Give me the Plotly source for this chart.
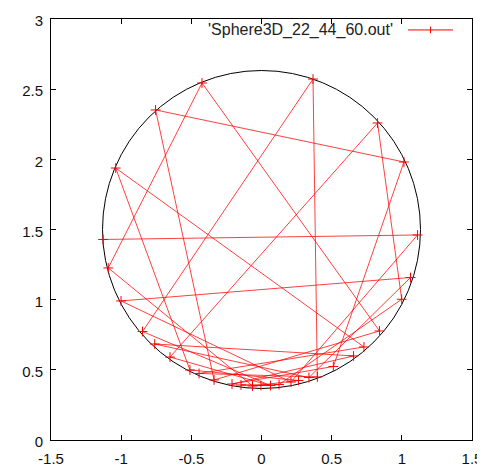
import plotly.graph_objects as go

# Bounce points, in path order
path_x = [-1.129, 1.112, 0.210, -1.001, 1.062, 0.338, -0.761, 0.656, -0.210, 0.512,
          1.015, -0.755, -0.338, 0.841, -0.424, -1.092, -0.064, 0.264, -0.510, -1.039,
          0.730, -0.445, 0.398, 0.367, -0.848, 0.064, -0.652, 0.827, 0.999, 0.125,
          -0.146, -0.004]
path_y = [1.429, 1.461, 0.413, 0.991, 1.158, 0.445, 0.684, 0.599, 0.399, 0.524,
          1.981, 2.352, 0.428, 0.777, 2.544, 1.226, 0.385, 0.424, 0.499, 1.938,
          0.663, 0.474, 0.449, 2.572, 0.773, 0.388, 0.591, 2.259, 1.003, 0.395,
          0.392, 0.388]

series_name = "'Sphere3D_22_44_60.out'"

circle_cx = 0.0
circle_cy = 1.5
circle_r = 1.133

x_ticks = [-1.5, -1, -0.5, 0, 0.5, 1, 1.5]
x_tick_text = ["-1.5", "-1", "-0.5", "0", "0.5", "1", "1.5"]
y_ticks = [0, 0.5, 1, 1.5, 2, 2.5, 3]
y_tick_text = ["0", "0.5", "1", "1.5", "2", "2.5", "3"]

FONT = "Liberation Sans, Arial, sans-serif"

fig = go.Figure()
fig.add_trace(go.Scatter(
    x=path_x, y=path_y, mode="lines+markers", name=series_name,
    line=dict(color="rgba(255,0,0,0.75)", width=1),
    marker=dict(symbol="cross-thin", size=7, color="red",
                line=dict(color="red", width=1)),
    showlegend=False,
))

fig.add_shape(type="circle", xref="x", yref="y",
              x0=circle_cx - circle_r, x1=circle_cx + circle_r,
              y0=circle_cy - circle_r, y1=circle_cy + circle_r,
              line=dict(color="black", width=1), layer="below")

# gnuplot-style key: text then sample on the right
fig.add_annotation(xref="paper", yref="paper", x=0.818, y=0.974,
                   text=series_name, showarrow=False, xanchor="right",
                   yanchor="middle", font=dict(family=FONT, size=16, color="#222"))
fig.add_shape(type="line", xref="paper", yref="paper", x0=0.848, x1=0.955,
              y0=0.974, y1=0.974, line=dict(color="red", width=1))
fig.add_shape(type="line", xref="paper", yref="paper", x0=0.9015, x1=0.9015,
              y0=0.974 - 0.008, y1=0.974 + 0.008, line=dict(color="red", width=1))

axis_common = dict(showgrid=False, zeroline=False, showline=True, linecolor="black",
                   linewidth=1, mirror="ticks", ticks="inside", ticklen=5,
                   tickcolor="black", automargin=False,
                   tickfont=dict(family=FONT, size=15, color="#111"))
fig.update_xaxes(range=[-1.5, 1.5], tickvals=x_ticks, ticktext=x_tick_text,
                 ticklabelstandoff=5, **axis_common)
fig.update_yaxes(range=[0, 3], tickvals=y_ticks, ticktext=y_tick_text,
                 ticklabelstandoff=4, ticklabelshift=2, **axis_common)

# page body adds an 8px offset, so the figure is sized to fit the 485x468 window
fig.update_layout(
    template="none",
    width=477, height=460,
    margin=dict(l=43, r=13, t=11, b=28),
    paper_bgcolor="white", plot_bgcolor="white",
    font=dict(family=FONT, size=15, color="#111"),
)

fig.write_html("out.html")
